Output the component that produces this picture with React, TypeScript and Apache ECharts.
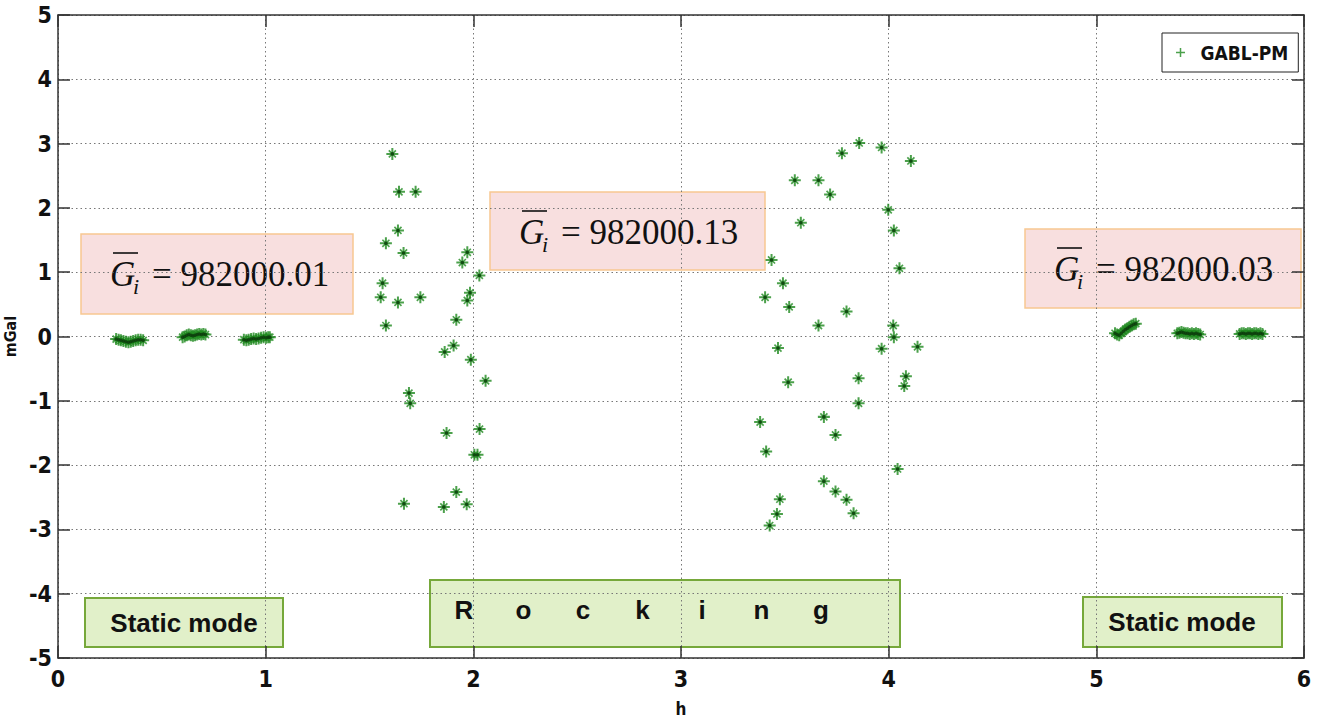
import React, { useEffect, useRef } from "react";
import * as echarts from "echarts";

// ---- data (h, mGal) ----
const staticLeft1: number[][] = [
  [0.28, -0.04], [0.292, -0.05], [0.303, -0.06], [0.315, -0.07], [0.327, -0.08], [0.339, -0.09],
  [0.35, -0.08], [0.362, -0.07], [0.374, -0.06], [0.386, -0.05], [0.398, -0.05], [0.41, -0.06],
];
const staticLeft2: number[][] = [
  [0.6, -0.01], [0.61, 0.0], [0.62, 0.02], [0.63, 0.03], [0.64, 0.02], [0.65, 0.01],
  [0.66, 0.02], [0.67, 0.03], [0.68, 0.04], [0.69, 0.03], [0.7, 0.04], [0.71, 0.03],
];
const staticLeft3: number[][] = [
  [0.895, -0.05], [0.907, -0.06], [0.918, -0.05], [0.93, -0.04], [0.942, -0.03], [0.954, -0.04],
  [0.966, -0.03], [0.978, -0.02], [0.99, -0.01], [1.002, -0.02], [1.012, -0.01], [1.02, -0.01],
];
const rockingLeft: number[][] = [
  [1.61, 2.84], [1.642, 2.25], [1.722, 2.25], [1.637, 1.65], [1.579, 1.45], [1.664, 1.3],
  [1.971, 1.31], [1.947, 1.15], [2.029, 0.95], [1.563, 0.83], [1.554, 0.61], [1.637, 0.53],
  [1.745, 0.61], [1.984, 0.68], [1.971, 0.56], [1.579, 0.17], [1.918, 0.26], [1.905, -0.14],
  [1.862, -0.24], [1.988, -0.36], [2.059, -0.69], [1.69, -0.88], [1.696, -1.04], [2.03, -1.44],
  [1.871, -1.5], [2.005, -1.84], [2.02, -1.84], [1.918, -2.42], [1.666, -2.6], [1.858, -2.65],
  [1.968, -2.61],
];
const rockingRight: number[][] = [
  [3.858, 3.01], [3.966, 2.94], [3.775, 2.85], [4.107, 2.73], [3.548, 2.43], [3.662, 2.43],
  [3.718, 2.21], [3.998, 1.97], [3.577, 1.77], [4.025, 1.65], [3.436, 1.19], [4.052, 1.06],
  [3.491, 0.83], [3.405, 0.61], [3.521, 0.46], [3.797, 0.39], [3.662, 0.17], [4.022, 0.17],
  [4.025, -0.01], [3.467, -0.18], [3.966, -0.19], [4.139, -0.16], [3.516, -0.71], [3.855, -0.65],
  [4.083, -0.62], [4.075, -0.77], [3.855, -1.04], [3.381, -1.33], [3.688, -1.25], [3.744, -1.53],
  [3.41, -1.79], [4.043, -2.06], [3.688, -2.25], [3.744, -2.41], [3.797, -2.54], [3.831, -2.75],
  [3.476, -2.53], [3.462, -2.76], [3.427, -2.94],
];
const staticRight1: number[][] = [
  [5.09, 0.05], [5.1, 0.03], [5.11, 0.02], [5.12, 0.05], [5.13, 0.08], [5.14, 0.11],
  [5.15, 0.13], [5.16, 0.15], [5.17, 0.17], [5.18, 0.19], [5.19, 0.2],
];
const staticRight2: number[][] = [
  [5.39, 0.05], [5.4, 0.06], [5.41, 0.07], [5.42, 0.06], [5.43, 0.05], [5.44, 0.05],
  [5.45, 0.04], [5.46, 0.05], [5.47, 0.04], [5.48, 0.05], [5.49, 0.04], [5.5, 0.03],
];
const staticRight3: number[][] = [
  [5.69, 0.04], [5.7, 0.05], [5.71, 0.05], [5.72, 0.04], [5.73, 0.05], [5.74, 0.05],
  [5.75, 0.04], [5.76, 0.05], [5.77, 0.05], [5.78, 0.04], [5.79, 0.05], [5.8, 0.04],
];

const seriesName = "GABL-PM";
const xAxisName = "h";
const yAxisName = "mGal";
const meanValues = ["982000.01", "982000.13", "982000.03"];
const modeLabels = ["Static mode", "Static mode"];
const rockingLetters = ["R", "o", "c", "k", "i", "n", "g"];

const allPoints = [
  ...staticLeft1, ...staticLeft2, ...staticLeft3,
  ...rockingLeft, ...rockingRight,
  ...staticRight1, ...staticRight2, ...staticRight3,
];

const PLUS = "path://M-1,-6L1,-6L1,-1L6,-1L6,1L1,1L1,6L-1,6L-1,1L-6,1L-6,-1L-1,-1Z";
const GREEN = "#1f8a1f";
const TICK_FONT = "'DejaVu Sans Condensed', 'Liberation Sans Narrow', sans-serif";

function formulaBox(left: number, top: number, w: number, h: number, value: string) {
  const cy = top + 40;
  const gx = left + 29;
  return {
    type: "group",
    children: [
      { type: "rect", shape: { x: left, y: top, width: w, height: h }, style: { fill: "#f8dfdf", stroke: "#f8c891", lineWidth: 1.5 } },
      { type: "text", x: gx, y: cy, style: { text: "G", font: "italic 35px 'Liberation Serif', serif", fill: "#111", verticalAlign: "middle", align: "left" } },
      { type: "line", shape: { x1: gx + 3, y1: cy - 21, x2: gx + 28, y2: cy - 21 }, style: { stroke: "#111", lineWidth: 1.6 } },
      { type: "text", x: gx + 23, y: cy + 12, style: { text: "i", font: "italic 22px 'Liberation Serif', serif", fill: "#111", verticalAlign: "middle", align: "left" } },
      { type: "text", x: gx + 42, y: cy, style: { text: "= " + value, font: "35px 'Liberation Serif', serif", fill: "#111", verticalAlign: "middle", align: "left" } },
    ],
  };
}

function greenBox(left: number, top: number, w: number, h: number) {
  return { type: "rect", shape: { x: left, y: top, width: w, height: h }, style: { fill: "#e1f0c9", stroke: "#76a83a", lineWidth: 2 } };
}

export default function App() {
  const ref = useRef<HTMLDivElement>(null);
  useEffect(() => {
    if (!ref.current) return;
    const chart = echarts.init(ref.current, undefined, { renderer: "svg" });
    const axisLineStyle = { color: "#333", width: 1.5 };
    const modeFont = "bold 26px 'Liberation Sans', Arial, sans-serif";
    chart.setOption({
      animation: false,
      backgroundColor: "#ffffff",
      grid: { left: 58, right: 22, top: 15, bottom: 62, outerBoundsMode: "none", containLabel: false },
      legend: {
        data: [seriesName],
        left: 1162,
        top: 33,
        padding: [10, 10, 10, 14],
        borderColor: "#222",
        borderWidth: 1,
        itemWidth: 30,
        itemHeight: 9,
        icon: PLUS,
        textStyle: { fontFamily: TICK_FONT, fontWeight: "bold", fontSize: 19, color: "#111" },
      },
      xAxis: [
        {
          type: "value", min: 0, max: 6, interval: 1,
          name: xAxisName, nameLocation: "middle", nameGap: 42,
          nameTextStyle: { fontFamily: TICK_FONT, fontWeight: "bold", fontSize: 17, color: "#111" },
          axisLine: { show: true, onZero: false, lineStyle: axisLineStyle },
          axisTick: { show: true, inside: true, length: 12, lineStyle: axisLineStyle },
          axisLabel: { fontFamily: TICK_FONT, fontWeight: "bold", fontSize: 23, color: "#111", margin: 9 },
          splitLine: { show: true, lineStyle: { color: "#777", type: [1.5, 3], width: 1 } },
        },
        {
          type: "value", min: 0, max: 6, interval: 1, position: "top",
          axisLine: { show: true, onZero: false, lineStyle: axisLineStyle },
          axisTick: { show: true, inside: true, length: 12, lineStyle: axisLineStyle },
          axisLabel: { show: false },
          splitLine: { show: false },
        },
      ],
      yAxis: [
        {
          type: "value", min: -5, max: 5, interval: 1,
          name: yAxisName, nameLocation: "middle", nameGap: 40,
          nameTextStyle: { fontFamily: TICK_FONT, fontWeight: "bold", fontSize: 16, color: "#111" },
          axisLine: { show: true, onZero: false, lineStyle: axisLineStyle },
          axisTick: { show: true, inside: true, length: 12, lineStyle: axisLineStyle },
          axisLabel: { fontFamily: TICK_FONT, fontWeight: "bold", fontSize: 23, color: "#111", margin: 6 },
          splitLine: { show: true, lineStyle: { color: "#777", type: [1.5, 3], width: 1 } },
        },
        {
          type: "value", min: -5, max: 5, interval: 1, position: "right",
          axisLine: { show: true, onZero: false, lineStyle: axisLineStyle },
          axisTick: { show: true, inside: true, length: 12, lineStyle: axisLineStyle },
          axisLabel: { show: false },
          splitLine: { show: false },
        },
      ],
      series: [
        {
          name: seriesName, type: "scatter", data: allPoints,
          symbol: PLUS, symbolSize: 12, itemStyle: { color: GREEN },
        },
        {
          name: seriesName + "-x", type: "scatter", data: allPoints,
          symbol: PLUS, symbolSize: 10, symbolRotate: 45, itemStyle: { color: GREEN },
        },
        {
          name: seriesName + "-c", type: "scatter", data: allPoints,
          symbol: "circle", symbolSize: 3.5, itemStyle: { color: "#0c3a0c" },
        },
      ],
      graphic: [
        formulaBox(81, 234, 272, 80, meanValues[0]),
        formulaBox(490, 192, 275, 78, meanValues[1]),
        formulaBox(1025, 229, 276, 79, meanValues[2]),
        greenBox(85, 598, 198, 49),
        { type: "text", x: 184, y: 623, style: { text: modeLabels[0], font: modeFont, fill: "#111", align: "center", verticalAlign: "middle" } },
        greenBox(1083, 597, 199, 50),
        { type: "text", x: 1182, y: 622, style: { text: modeLabels[1], font: modeFont, fill: "#111", align: "center", verticalAlign: "middle" } },
        greenBox(430, 580, 470, 67),
        ...rockingLetters.map((ch, i) => ({
          type: "text", x: 464 + i * 59.5, y: 610,
          style: { text: ch, font: modeFont, fill: "#111", align: "center", verticalAlign: "middle" },
        })),
      ],
    });
    return () => chart.dispose();
  }, []);
  return <div ref={ref} style={{ position: "fixed", left: 0, top: 0, width: 1326, height: 720 }} />;
}
